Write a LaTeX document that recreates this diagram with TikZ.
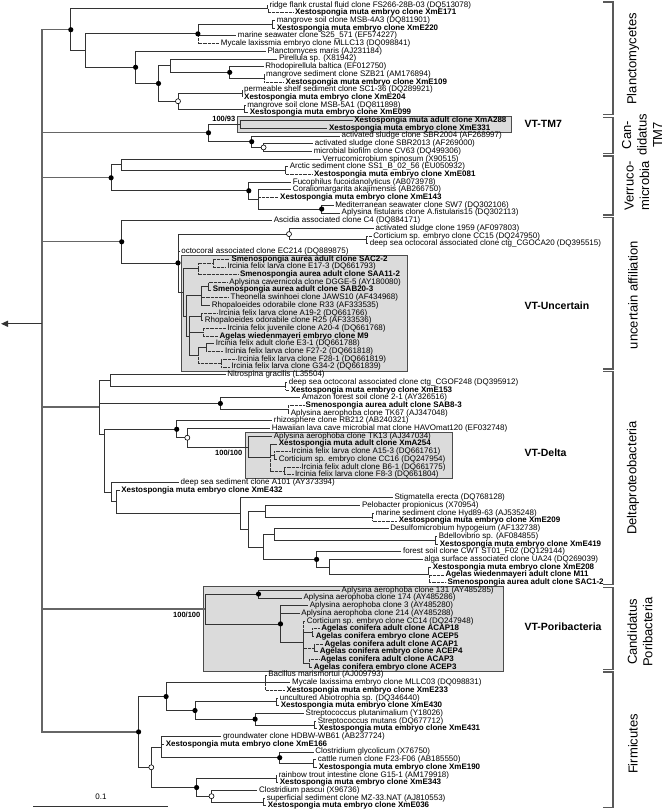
\documentclass[tikz,border=0pt]{standalone}
\usepackage{fontspec}
\setmainfont{Liberation Sans}
\usetikzlibrary{arrows.meta}

\begin{document}
\begin{tikzpicture}[x=1pt,y=-7.7pt,
  lf/.style={anchor=west,inner xsep=1.6pt,inner ysep=0pt,text height=5.8pt,text depth=1.7pt,font=\fontsize{8}{9}\selectfont},
  lb/.style={lf,font=\fontsize{8}{9}\selectfont\bfseries},
  br/.style={line width=0.75pt,draw=black!80},
  brd/.style={line width=0.6pt,draw=black!80,dash pattern=on 0.6pt off 0.7pt},
  trunk/.style={line width=1.3pt,draw=black!60},
  fdot/.style={circle,fill=black,inner sep=0pt,minimum size=5.2pt},
  odot/.style={circle,fill=white,draw=black,line width=0.6pt,inner sep=0pt,minimum size=5pt},
  vtbox/.style={fill=black!14,draw=black!70,line width=0.7pt},
  boot/.style={font=\fontsize{7.5}{8}\selectfont\bfseries,inner sep=0.5pt},
  vt/.style={anchor=west,font=\fontsize{10.5}{12}\selectfont\bfseries},
  grp/.style={rotate=90,align=center,font=\fontsize{13}{15.5}\selectfont},
  brk/.style={line width=1.2pt,draw=black!65}]
\useasboundingbox (0,0.3506) rectangle (664,105.805);

% grey boxes
\draw[vtbox] (237.3,15.45) rectangle (511.5,17.55);
\draw[vtbox] (181,33.5) rectangle (407.6,48.55);
\draw[vtbox] (245.8,56.45) rectangle (452.1,62.5);
\draw[vtbox] (203,76.45) rectangle (503.8,87.6);

% leaves
\node[lf] (l1) at (267.8,1) {ridge flank crustal fluid clone FS266-28B-03 (DQ513078)};
\node[lb] (l2) at (293.2,2) {Xestospongia muta embryo clone XmE171};
\node[lf] (l3) at (275,3) {mangrove soil clone MSB-4A3 (DQ811901)};
\node[lb] (l4) at (275,4) {Xestospongia muta embryo clone XmE220};
\node[lf] (l5) at (236.1,5) {marine seawater clone S25\_571 (EF574227)};
\node[lf] (l6) at (219.1,6) {Mycale laxissmia embryo clone MLLC13 (DQ098841)};
\node[lf] (l7) at (265.7,7) {Planctomyces maris (AJ231184)};
\node[lf] (l8) at (277.2,8) {Pirellula sp. (X81942)};
\node[lf] (l9) at (263.6,9) {Rhodopirellula baltica (EF012750)};
\node[lf] (l10) at (264.4,10) {mangrove sediment clone SZB21 (AM176894)};
\node[lb] (l11) at (283.9,11) {Xestospongia muta embryo clone XmE109};
\node[lf] (l12) at (242.4,12) {permeable shelf sediment clone SC1-36 (DQ289921)};
\node[lb] (l13) at (242.4,13) {Xestospongia muta embryo clone XmE204};
\node[lf] (l14) at (245.5,14) {mangrove soil clone MSB-5A1 (DQ811898)};
\node[lb] (l15) at (248,15) {Xestospongia muta embryo clone XmE099};
\node[lb] (l16) at (352.6,16) {Xestospongia muta adult clone XmA288};
\node[lb] (l17) at (327.2,17) {Xestospongia muta embryo clone XmE331};
\node[lf] (l18) at (339.9,18) {activated sludge clone SBR2004 (AF268997)};
\node[lf] (l19) at (313,19) {activated sludge clone SBR2013 (AF269000)};
\node[lf] (l20) at (312,20) {microbial biofilm clone CV63 (DQ499306)};
\node[lf] (l21) at (320.8,21) {Verrucomicrobium spinosum (X90515)};
\node[lf] (l22) at (288,22) {Arctic sediment clone SS1\_B\_02\_56 (EU050932)};
\node[lb] (l23) at (312.3,23) {Xestospongia muta embryo clone XmE081};
\node[lf] (l24) at (291.1,24) {Fucophilus fucoidanolyticus (AB073978)};
\node[lf] (l25) at (291.1,25) {Coraliomargarita akajimensis (AB266750)};
\node[lb] (l26) at (278.4,26) {Xestospongia muta embryo clone XmE143};
\node[lf] (l27) at (333.5,27) {Mediterranean seawater clone SW7 (DQ302106)};
\node[lf] (l28) at (339.9,28) {Aplysina fistularis clone A.fistularis15 (DQ302113)};
\node[lf] (l29) at (272.1,29) {Ascidia associated clone C4 (DQ884171)};
\node[lf] (l30) at (373.8,30) {activated sludge clone 1959 (AF097803)};
\node[lf] (l31) at (371.6,31) {Corticium sp. embryo clone CC15 (DQ247950)};
\node[lf] (l32) at (368,32) {deep sea octocoral associated clone ctg\_CGOCA20 (DQ395515)};
\node[lf] (l33) at (179.5,33) {octocoral associated clone EC214 (DQ889875)};
\node[lb] (l34) at (229.7,34) {Smenospongia aurea adult clone SAC2-2};
\node[lf] (l35) at (225.5,35) {Ircinia felix larva clone E17-3 (DQ661793)};
\node[lb] (l36) at (238.2,36) {Smenospongia aurea adult clone SAA11-2};
\node[lf] (l37) at (227.5,37) {Aplysina cavernicola clone DGGE-5 (AY180080)};
\node[lb] (l38) at (211,38) {Smenospongia aurea adult clone SAB20-3};
\node[lf] (l39) at (228.9,39) {Theonella swinhoei clone JAWS10 (AF434968)};
\node[lf] (l40) at (210,40) {Rhopaloeides odorabile clone R33 (AF333535)};
\node[lf] (l41) at (217,41) {Ircinia felix larva clone A19-2 (DQ661766)};
\node[lf] (l42) at (203,42) {Rhopaloeides odorabile clone R25 (AF333536)};
\node[lf] (l43) at (225.5,43) {Ircinia felix juvenile clone A20-4 (DQ661768)};
\node[lb] (l44) at (217.8,44) {Agelas wiedenmayeri embryo clone M9};
\node[lf] (l45) at (214,45) {Ircinia felix adult clone E3-1 (DQ661788)};
\node[lf] (l46) at (223.3,46) {Ircinia felix larva clone F27-2 (DQ661818)};
\node[lf] (l47) at (236.1,47) {Ircinia felix larva clone F28-1 (DQ661819)};
\node[lf] (l48) at (229.7,48) {Ircinia felix larva clone G34-2 (DQ661839)};
\node[lf] (l49) at (225.5,49) {Nitrospina gracilis (L35504)};
\node[lf] (l50) at (287,50) {deep sea octocoral associated clone ctg\_CGOF248 (DQ395912)};
\node[lb] (l51) at (289,51) {Xestospongia muta embryo clone XmE153};
\node[lf] (l52) at (300,52) {Amazon forest soil clone 2-1 (AY326516)};
\node[lb] (l53) at (303.9,53) {Smenospongia aurea adult clone SAB8-3};
\node[lf] (l54) at (289,54) {Aplysina aerophoba clone TK67 (AJ347048)};
\node[lf] (l55) at (272.1,55) {rhizosphere clone RB212 (AB240321)};
\node[lf] (l56) at (270,56) {Hawaiian lava cave microbial mat clone HAVOmat120 (EF032748)};
\node[lf] (l57) at (272.1,57) {Aplysina aerophoba clone TK13 (AJ347034)};
\node[lb] (l58) at (277,58) {Xestospongia muta adult clone XmA254};
\node[lf] (l59) at (289.9,59) {Ircinia felix larva clone A15-3 (DQ661761)};
\node[lf] (l60) at (277,60) {Corticium sp. embryo clone CC16 (DQ247954)};
\node[lf] (l61) at (299.6,61) {Ircinia felix adult clone B6-1 (DQ661775)};
\node[lf] (l62) at (293.2,62) {Ircinia felix larva clone F8-3 (DQ661804)};
\node[lf] (l63) at (178.9,63) {deep sea sediment clone A101 (AY373394)};
\node[lb] (l64) at (119.5,64) {Xestospongia muta embryo clone XmE432};
\node[lf] (l65) at (392.8,65) {Stigmatella erecta (DQ768128)};
\node[lf] (l66) at (360.2,66) {Pelobacter propionicus (X70954)};
\node[lf] (l67) at (374,67) {marine sediment clone Hyd89-63 (AJ535248)};
\node[lb] (l68) at (397.1,68) {Xestospongia muta embryo clone XmE209};
\node[lf] (l69) at (388.6,69) {Desulfomicrobium hypogeium (AF132738)};
\node[lf] (l70) at (437,70) {Bdellovibrio sp. (AF084855)};
\node[lb] (l71) at (438,71) {Xestospongia muta embryo clone XmE419};
\node[lf] (l72) at (401.3,72) {forest soil clone CWT ST01\_F02 (DQ129144)};
\node[lf] (l73) at (422.5,73) {alga surface associated clone UA24 (DQ269039)};
\node[lb] (l74) at (431,74) {Xestospongia muta embryo clone XmE208};
\node[lb] (l75) at (443.7,75) {Agelas wiedenmayeri adult clone M11};
\node[lb] (l76) at (445.8,76) {Smenospongia aurea adult clone SAC1-2};
\node[lf] (l77) at (339.9,77) {Aplysina aerophoba clone 131 (AY485285)};
\node[lf] (l78) at (301.7,78) {Aplysina aerophoba clone 174 (AY485286)};
\node[lf] (l79) at (308.1,79) {Aplysina aerophoba clone 3 (AY485280)};
\node[lf] (l80) at (299.6,80) {Aplysina aerophoba clone 214 (AY485288)};
\node[lf] (l81) at (305.1,81) {Corticium sp. embryo clone CC14 (DQ247948)};
\node[lb] (l82) at (319.5,82) {Agelas conifera adult clone ACAP18};
\node[lb] (l83) at (314,83) {Agelas conifera embryo clone ACEP5};
\node[lb] (l84) at (322.9,84) {Agelas conifera adult clone ACAP1};
\node[lb] (l85) at (318,85) {Agelas conifera embryo clone ACEP4};
\node[lb] (l86) at (318.7,86) {Agelas conifera adult clone ACAP3};
\node[lb] (l87) at (312,87) {Agelas conifera embryo clone ACEP3};
\node[lf] (l88) at (266.5,88) {Bacillus marismortui (AJ009793)};
\node[lf] (l89) at (290.3,89) {Mycale laxissima embryo clone MLLC03 (DQ098831)};
\node[lb] (l90) at (284.8,90) {Xestospongia muta embryo clone XmE233};
\node[lf] (l91) at (278,91) {uncultured Abiotrophia sp. (DQ346440)};
\node[lb] (l92) at (279,92) {Xestospongia muta embryo clone XmE430};
\node[lf] (l93) at (303.9,93) {Streptococcus plutanimalium (Y18026)};
\node[lf] (l94) at (316,94) {Streptococcus mutans (DQ677712)};
\node[lb] (l95) at (317,95) {Xestospongia muta embryo clone XmE431};
\node[lf] (l96) at (221.2,96) {groundwater clone HDBW-WB61 (AB237724)};
\node[lb] (l97) at (164,97) {Xestospongia muta embryo clone XmE166};
\node[lf] (l98) at (313.6,98) {Clostridium glycolicum (X76750)};
\node[lf] (l99) at (316,99) {cattle rumen clone F23-F06 (AB185550)};
\node[lb] (l100) at (317,100) {Xestospongia muta embryo clone XmE190};
\node[lf] (l101) at (277,101) {rainbow trout intestine clone G15-1 (AM179918)};
\node[lb] (l102) at (278,102) {Xestospongia muta embryo clone XmE343};
\node[lf] (l103) at (257.2,103) {Clostridium pascui (X96736)};
\node[lf] (l104) at (265,104) {superficial sediment clone MZ-33.NAT (AJ810553)};
\node[lb] (l105) at (266,105) {Xestospongia muta embryo clone XmE036};

% inner nodes
\coordinate (A) at (70.8,4.21);
\coordinate (P1) at (267.8,1.5);
\coordinate (B) at (85.6,6.92);
\coordinate (C) at (197.9,4.75);
\coordinate (P2) at (272.1,3.5);
\coordinate (D) at (135.6,9.09);
\coordinate (E) at (158.5,11.19);
\coordinate (F) at (170.4,8.875);
\coordinate (H) at (229.7,9.75);
\coordinate (P3) at (264.4,10.5);
\coordinate (G) at (178,13.5);
\coordinate (P4) at (242.4,12.5);
\coordinate (P5) at (244.5,14.5);
\coordinate (T) at (208.5,17.6);
\coordinate (PT) at (240.3,16.5);
\coordinate (S) at (251.7,18.75);
\coordinate (R) at (263.6,19.5);
\coordinate (V) at (111.1,23.44);
\coordinate (V1) at (121.7,21.75);
\coordinate (P6) at (285.6,22.5);
\coordinate (V2) at (248.8,25.125);
\coordinate (V3) at (258.5,26.25);
\coordinate (V4) at (321.7,27.5);
\coordinate (U) at (121.7,31.75);
\coordinate (U1) at (178,34.5);
\coordinate (U2) at (289,30.75);
\coordinate (P7) at (366.1,31.5);
\coordinate (UB) at (183,38.3);
\coordinate (UB1a) at (198,35.25);
\coordinate (Pa) at (212.8,34.5);
\coordinate (UBx) at (186,41.4);
\coordinate (UB1b) at (201,38.75);
\coordinate (Pb) at (208.5,37.5);
\coordinate (UB2) at (189,44);
\coordinate (Pc) at (201,41.5);
\coordinate (UB2b) at (203,43.5);
\coordinate (UB2c) at (198,46.5);
\coordinate (Pf) at (206.4,45.5);
\coordinate (Pe) at (221.2,47.5);
\coordinate (N0) at (99.2,53.2);
\coordinate (N1) at (110.2,49.75);
\coordinate (P8) at (285.6,50.5);
\coordinate (M1) at (220.4,52.75);
\coordinate (P9) at (288.2,53.5);
\coordinate (N2) at (104.7,56.7);
\coordinate (M0) at (176.7,56.1);
\coordinate (M0b) at (187.3,57.2);
\coordinate (DB) at (248.8,58.4);
\coordinate (DB1) at (270,59.75);
\coordinate (DB2) at (274.2,59.5);
\coordinate (DB3) at (283.9,61.5);
\coordinate (N3) at (111.1,64.26);
\coordinate (N4) at (116.1,65.52);
\coordinate (N5) at (240.3,67.03);
\coordinate (N6) at (248.8,69.06);
\coordinate (N7) at (265.7,66.75);
\coordinate (P10) at (372.5,67.5);
\coordinate (N8) at (263.6,71.375);
\coordinate (N9) at (274.2,69.75);
\coordinate (P11) at (435.2,70.5);
\coordinate (N10) at (316.6,73);
\coordinate (N11) at (329.3,74);
\coordinate (N12) at (428.8,75);
\coordinate (PB) at (205.5,79.45);
\coordinate (PB1) at (258.5,77.5);
\coordinate (PB2) at (280.5,81.375);
\coordinate (PB3) at (303,83.75);
\coordinate (PB3a) at (312.3,82.5);
\coordinate (PB3b) at (314.4,84.5);
\coordinate (PB3c) at (309.4,86.5);
\coordinate (F0) at (138.6,95.4);
\coordinate (F1) at (166.1,90.81);
\coordinate (F1a) at (265.7,89);
\coordinate (F1b) at (195,92.625);
\coordinate (P12) at (276.3,91.5);
\coordinate (F1c) at (255.1,93.75);
\coordinate (P13) at (314.4,94.5);
\coordinate (F2) at (151.3,100);
\coordinate (F3) at (161.1,97.375);
\coordinate (F3a) at (279.7,98.75);
\coordinate (P14) at (313.6,99.5);
\coordinate (F4) at (196.6,102.625);
\coordinate (P15) at (276.3,101.5);
\coordinate (F5) at (211.5,103.75);
\coordinate (P16) at (263.6,104.5);

% root and outgroup arrow
\coordinate (rt) at (42,42.4);
\coordinate (og) at (1,42.4);
\draw[trunk] (A) -| (rt) |- (F0);
\foreach \c in {T,V,U,N0,PB} \draw[trunk] (rt |- \c) -- (\c);
\draw[trunk,draw=black!80,-{Triangle[length=7pt,width=6pt]}] (rt) -- (og);

% branches
\foreach \p/\c in {A/P1,A/B,P1/l1,B/C,B/D,C/P2,C/l5,P2/l3,P2/l4,D/l7,D/E,E/F,E/G,F/l8,F/H,H/l9,H/P3,P3/l10,
  G/P4,G/P5,P4/l12,P4/l13,P5/l14,P5/l15,T/PT,T/S,PT/l16,PT/l17,S/l18,S/R,R/l19,R/l20,
  V/V1,V/V2,V1/l21,V1/P6,P6/l22,V2/l24,V2/V3,V3/l25,V3/V4,V4/l27,V4/l28,
  U/l29,U/U1,U1/U2,U1/l33,U1/UB,U2/l30,U2/P7,P7/l32,UB/UB1a,UB/UBx,UBx/UB1b,UBx/UB2,
  UB1b/Pb,UB1b/l40,Pb/l38,UB2/Pc,UB2/UB2b,UB2/UB2c,Pc/l42,UB2c/Pf,Pf/l45,
  N0/N1,N0/M1,N0/N2,N1/l49,N1/P8,P8/l50,M1/l52,M1/P9,P9/l54,N2/M0,N2/N3,M0/l55,M0/M0b,
  M0b/l56,M0b/DB,DB/l57,DB/DB1,DB1/l58,DB1/DB2,DB2/l60,
  N3/l63,N3/N4,N4/l64,N4/N5,N5/l65,N5/N6,N6/N7,N6/N8,N7/l66,N7/P10,P10/l67,N8/N9,N8/N10,
  N9/l69,N9/P11,P11/l70,P11/l71,N10/l72,N10/N11,N11/l73,N11/N12,N12/l74,
  PB/PB1,PB/PB2,PB1/l77,PB1/l78,PB2/l79,PB2/l80,PB2/PB3,PB3/PB3a,PB3/PB3c,PB3a/l83,PB3b/l85,PB3c/l87,
  F0/F1,F0/F2,F1/F1a,F1/F1b,F1a/l88,F1a/l89,F1b/P12,F1b/F1c,P12/l91,P12/l92,F1c/l93,F1c/P13,
  P13/l94,P13/l95,F2/F3,F2/F4,F3/l96,F3/l97,F3/F3a,F3a/l98,F3a/P14,P14/l99,P14/l100,
  F4/P15,F4/F5,P15/l101,P15/l102,F5/l103,F5/P16,P16/l104,P16/l105}
  \draw[br] (\p) |- (\c);
% partial sequences (dotted)
\foreach \p/\c in {P1/l2,C/l6,P3/l11,P6/l23,V3/l26,P7/l31,UB1a/Pa,UB1a/l36,Pa/l34,Pa/l35,
  UB1b/l39,Pb/l37,Pc/l41,UB2b/l43,UB2b/l44,UB2c/Pe,Pf/l46,Pe/l47,Pe/l48,P8/l51,P9/l53,
  DB1/DB3,DB2/l59,DB3/l61,DB3/l62,P10/l68,N12/l75,N12/l76,PB3/l81,PB3/PB3b,PB3a/l82,
  PB3b/l84,PB3c/l86,F1a/l90}
  \draw[brd] (\p) |- (\c);

% bootstrap marks
\foreach \n in {A,C,D,E,H,T,S,V,V2,V4,U,U1,M1,M0,N10,PB1,PB2,F0,F1,F1b,F1c,F3a,F4}
  \node[fdot] (c\n) at (\n) {};
\foreach \n in {G,R,U2,M0b,F2,F5}
  \node[odot] (c\n) at (\n) {};
\node[boot,anchor=south east] (bTM) at (236,16.3) {100/93};
\node[boot,anchor=north east] (bDe) at (243,58.7) {100/100};
\node[boot,anchor=north east] (bPo) at (201,79.7) {100/100};

% clade names
\node[vt] (vtTM) at (521,16.5) {VT-TM7};
\node[vt] (vtUn) at (521,40) {VT-Uncertain};
\node[vt] (vtDe) at (521,59.1) {VT-Delta};
\node[vt] (vtPo) at (521,81.8) {VT-Poribacteria};

% brackets
\draw[brk] (603,0.61) -- (613,0.61) -- (613,15.26) -- (603,15.26);
\draw[brk] (603,15.61) -- (613,15.61) -- (613,20.26) -- (603,20.26);
\draw[brk] (603,20.61) -- (613,20.61) -- (613,28.26) -- (603,28.26);
\draw[brk] (603,28.61) -- (613,28.61) -- (613,48.26) -- (603,48.26);
\draw[brk] (603,48.61) -- (613,48.61) -- (613,76.26) -- (603,76.26);
\draw[brk] (603,76.61) -- (613,76.61) -- (613,87.26) -- (603,87.26);
\draw[brk] (603,87.61) -- (613,87.61) -- (613,105.26) -- (603,105.26);
\node[grp] (gPl) at (633,7.99) {Planctomycetes};
\node[grp] (gTM) at (642,17.88) {Can-\\didatus\\TM7};
\node[grp] (gVe) at (637,24.5) {Verruco-\\microbia};
\node[grp] (gUn) at (633,38.66) {uncertain affiliation};
\node[grp] (gDe) at (633,62.43) {Deltaproteobacteria};
\node[grp] (gPo) at (640,82.43) {Candidatus\\Poribacteria};
\node[grp] (gFi) at (633,96.97) {Firmicutes};

% scale bar
\coordinate (s0) at (33,105.03);
\coordinate (s1) at (168,105.03);
\draw[br,line width=0.9pt] (s0) -- (s1);
\node[font=\fontsize{8}{9}\selectfont] (sb) at (101,103.85) {0.1};
\end{tikzpicture}
\end{document}
